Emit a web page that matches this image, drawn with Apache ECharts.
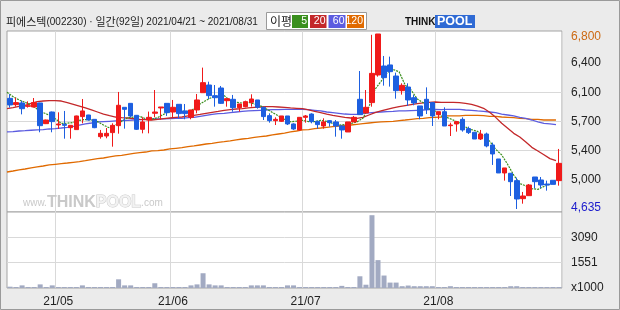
<!DOCTYPE html>
<html><head><meta charset="utf-8">
<script src="https://cdn.jsdelivr.net/npm/echarts@6/dist/echarts.min.js"></script>
<style>html,body{margin:0;padding:0;background:#ebebeb;}#c{width:620px;height:310px;}</style>
</head><body><div id="c"></div>
<script>
const title = '피에스텍(002230) · 일간(92일) 2021/04/21 ~ 2021/08/31';
const legendLabel = '이평';
const maNames = ['5', '20', '60', '120'];
const dates = [
'2021/04/21','2021/04/22','2021/04/23','2021/04/26','2021/04/27','2021/04/28','2021/04/29','2021/04/30',
'2021/05/03','2021/05/04','2021/05/06','2021/05/07','2021/05/10','2021/05/11','2021/05/12','2021/05/13','2021/05/14',
'2021/05/17','2021/05/18','2021/05/20','2021/05/21','2021/05/24','2021/05/25','2021/05/26','2021/05/27','2021/05/28','2021/05/31',
'2021/06/01','2021/06/02','2021/06/03','2021/06/04','2021/06/07','2021/06/08','2021/06/09','2021/06/10','2021/06/11',
'2021/06/14','2021/06/15','2021/06/16','2021/06/17','2021/06/18','2021/06/21','2021/06/22','2021/06/23','2021/06/24','2021/06/25',
'2021/06/28','2021/06/29','2021/06/30',
'2021/07/01','2021/07/02','2021/07/05','2021/07/06','2021/07/07','2021/07/08','2021/07/09','2021/07/12','2021/07/13','2021/07/14',
'2021/07/15','2021/07/16','2021/07/19','2021/07/20','2021/07/21','2021/07/22','2021/07/23','2021/07/26','2021/07/27','2021/07/28',
'2021/07/29','2021/07/30',
'2021/08/02','2021/08/03','2021/08/04','2021/08/05','2021/08/06','2021/08/09','2021/08/10','2021/08/11','2021/08/12','2021/08/13',
'2021/08/17','2021/08/18','2021/08/19','2021/08/20','2021/08/23','2021/08/24','2021/08/25','2021/08/26','2021/08/27','2021/08/30','2021/08/31'];
const opens = [6004,5926,5947,5905,5897,5947,5691,5835,5675,5683,5641,5617,5778,5798,5744,5530,5538,5580,5666,5893,
5942,5794,5621,5736,5819,5885,5942,5835,5930,5848,5769,5860,6074,6169,6037,6132,5975,5992,5889,5901,
5955,5984,5893,5790,5728,5720,5786,5687,5613,5769,5810,5720,5662,5728,5712,5662,5588,5712,5992,5823,
5951,6293,6404,6417,6280,6099,6144,6012,5910,5992,5951,5802,5839,5666,5687,5744,5629,5584,5501,5563,
5427,5254,5081,5077,4986,4763,4800,5031,4994,4944,4990,4986];
const closes = [5922,5951,5876,5913,5951,5666,5736,5716,5687,5670,5670,5786,5848,5736,5641,5571,5571,5670,5918,5868,
5786,5621,5712,5769,5835,5897,5827,5893,5815,5815,5860,5984,6198,6037,6012,5942,6000,5889,5934,5963,
5996,5893,5778,5728,5744,5786,5687,5625,5769,5786,5716,5679,5712,5703,5662,5613,5712,5769,5802,5893,
6313,6800,6260,6334,6099,6165,5984,5947,5786,5868,5786,5839,5662,5674,5716,5613,5580,5501,5563,5415,
5316,5081,5143,4973,4759,4796,4932,4973,4932,4932,4940,5200];
const lows = [5889,5901,5806,5889,5893,5584,5686,5584,5625,5505,5505,5617,5695,5730,5635,5505,5510,5406,5567,5629,
5770,5613,5571,5571,5770,5740,5786,5770,5757,5745,5745,5819,6074,5996,5901,5934,5901,5839,5839,5893,
5901,5876,5736,5703,5674,5712,5674,5613,5604,5703,5695,5629,5629,5654,5530,5505,5588,5712,5802,5823,
5901,6272,6161,6149,6000,6050,5910,5918,5745,5810,5662,5745,5662,5538,5592,5592,5563,5501,5489,5398,
5180,5081,4986,4796,4635,4701,4800,4891,4891,4862,4940,4924];
const highs = [6054,6013,5975,5967,6008,5950,5740,5840,5831,5848,5670,5790,5996,5800,5745,5613,5637,5695,6083,5893,
5942,5798,5770,5840,6107,5897,5942,5984,5930,5934,5860,6058,6384,6210,6169,6157,6000,6046,5934,5975,
6054,5984,5893,5819,5769,5786,5786,5695,5769,5798,5819,5720,5757,5736,5736,5670,5712,5786,6342,6107,
6790,6800,6528,6520,6322,6190,6190,6046,5910,6140,5951,5839,5893,5703,5716,5769,5654,5584,5613,5580,
5456,5254,5143,5077,5023,4846,4944,5031,5031,4986,4990,5378];
const ma5 = [6078,6025,5984,5955,5923,5871,5828,5796,5751,5695,5696,5706,5732,5742,5736,5716,5673,5638,5674,5720,
5763,5773,5781,5751,5745,5767,5808,5844,5853,5849,5842,5873,5934,5979,6018,6035,6038,5976,5955,5946,
5956,5935,5913,5872,5828,5786,5745,5714,5722,5731,5717,5715,5732,5719,5694,5674,5680,5692,5712,5758,
5898,6115,6214,6320,6361,6332,6168,6106,5996,5950,5874,5845,5788,5766,5735,5701,5649,5617,5595,5534,
5475,5375,5304,5186,5054,4950,4921,4887,4878,4913,4942,4995];
const ma20 = [5876,5889,5905,5918,5942,5963,5971,5975,5975,5971,5951,5930,5909,5885,5860,5835,5810,5790,5773,5765,
5761,5753,5745,5740,5736,5745,5753,5761,5769,5773,5786,5794,5806,5819,5831,5843,5856,5864,5872,5876,
5885,5893,5897,5901,5901,5897,5893,5885,5881,5876,5860,5843,5827,5810,5794,5782,5769,5761,5757,5769,
5798,5827,5848,5868,5885,5901,5914,5926,5938,5947,5955,5959,5955,5955,5955,5951,5942,5930,5909,5881,
5831,5769,5695,5633,5571,5526,5464,5398,5353,5307,5258,5233];
const ma60 = [5588,5592,5600,5604,5609,5613,5617,5625,5629,5637,5646,5658,5674,5687,5699,5712,5716,5720,5724,5728,
5732,5736,5740,5745,5749,5749,5749,5753,5757,5757,5765,5769,5782,5794,5806,5815,5819,5827,5835,5843,
5848,5852,5856,5860,5864,5864,5868,5868,5868,5868,5864,5856,5848,5835,5827,5819,5810,5806,5806,5815,
5823,5831,5835,5839,5843,5848,5848,5852,5856,5860,5864,5868,5864,5868,5868,5868,5860,5856,5848,5843,
5835,5827,5810,5798,5786,5769,5757,5736,5712,5695,5687,5679];
const ma120 = [5093,5105,5118,5130,5143,5155,5167,5180,5188,5196,5204,5213,5221,5233,5246,5258,5266,5279,5291,5299,
5312,5324,5332,5340,5353,5357,5365,5378,5386,5394,5406,5415,5427,5439,5448,5460,5468,5477,5489,5501,
5510,5522,5530,5538,5551,5563,5575,5588,5600,5613,5617,5629,5637,5646,5654,5662,5670,5674,5683,5691,
5699,5707,5712,5716,5720,5728,5736,5745,5753,5757,5765,5769,5773,5786,5786,5786,5794,5794,5794,5790,
5782,5782,5773,5769,5765,5757,5753,5745,5745,5736,5736,5736];
const volumes = [80,60,160,60,60,220,60,160,60,60,60,60,160,60,60,60,60,60,530,160,
160,60,60,60,290,60,60,60,60,60,160,220,900,220,160,160,60,60,60,60,
160,160,160,60,60,60,160,160,60,60,60,60,60,60,60,130,60,60,715,200,
4440,1700,760,330,330,110,150,110,110,110,110,60,60,110,60,60,60,60,60,60,
60,60,60,110,110,60,60,60,60,60,60,60];
const priceTickValues = [4635, 4996, 5357, 5717, 6078, 6439, 6800];
const priceTickLabels = ['4,635', '5,000', '5,400', '5,700', '6,100', '6,400', '6,800'];
const volTickValues = [0, 1545, 3090];
const volTickLabels = ['x1000', '1551', '3090'];

const FONT = '"Noto Sans CJK KR", "Noto Sans", sans-serif';
const LFONT = '"Liberation Sans", "Noto Sans", sans-serif';
const maColors = ['#3a8f1e', '#c3282a', '#5c5ce0', '#e06a00'];
const gridColor = '#d9d9d9';
const isMonthStart = (i) => i > 0 && dates[i].slice(5, 7) !== dates[i - 1].slice(5, 7);

// title as rich text: Hangul runs in CJK font, the rest narrower
const titleRich = title.split(/([가-힣]+)/).filter(s => s.length)
  .map(s => /[가-힣]/.test(s) ? '{h|' + s + '}' : '{a|' + s + '}').join('');

const chart = echarts.init(document.getElementById('c'), null, {renderer: 'canvas'});
const legendBoxes = [];
const boxX = [292, 310, 328.5, 347], boxW = [16, 16.5, 17, 17];
maNames.forEach((n, k) => {
  legendBoxes.push({type: 'rect', shape: {x: boxX[k], y: 15, width: boxW[k], height: 13}, style: {fill: maColors[k]}});
  legendBoxes.push({type: 'text', x: boxX[k] + boxW[k] - 1, y: 21.5, style: {text: n, fill: '#fff', font: '10.5px ' + LFONT, align: 'right', verticalAlign: 'middle'}});
});

chart.setOption({
  animation: false,
  backgroundColor: '#ebebeb',
  grid: [
    {left: 7, right: 58, top: 31, height: 181, show: true, backgroundColor: '#fff', borderColor: '#a3a3a3', borderWidth: 1, outerBoundsMode: 'none', containLabel: false},
    {left: 7, right: 58, top: 212, height: 76, show: true, backgroundColor: '#fff', borderColor: '#a3a3a3', borderWidth: 1, outerBoundsMode: 'none', containLabel: false}
  ],
  xAxis: [
    {type: 'category', gridIndex: 0, data: dates, boundaryGap: true,
     axisLine: {show: false}, axisTick: {show: false}, axisLabel: {show: false},
     splitLine: {show: true, interval: (i) => isMonthStart(i), lineStyle: {color: gridColor, width: 1}}},
    {type: 'category', gridIndex: 0, data: dates.concat(['']), boundaryGap: false, show: false},
    {type: 'category', gridIndex: 1, data: dates, boundaryGap: true,
     axisLine: {show: false}, axisTick: {show: false},
     axisLabel: {show: true, interval: (i) => isMonthStart(i), formatter: (d) => d.slice(2, 4) + '/' + d.slice(5, 7),
       color: '#222', fontSize: 12, fontFamily: LFONT, margin: 8},
     splitLine: {show: true, interval: (i) => isMonthStart(i), lineStyle: {color: gridColor, width: 1}}}
  ],
  yAxis: [
    {type: 'value', gridIndex: 0, position: 'right', min: 4598, max: 6837, scale: true,
     axisLine: {show: false}, axisTick: {show: false, customValues: priceTickValues.slice(1, 6)},
     axisLabel: {show: true, customValues: priceTickValues, margin: 9, align: 'left',
       fontSize: 12, fontFamily: LFONT, color: '#222',
       formatter: (v) => {
         const k = priceTickValues.indexOf(v);
         const t = k >= 0 ? priceTickLabels[k] : '';
         if (k === priceTickValues.length - 1) return '{o|' + t + '}';
         if (k === 0) return '{b|' + t + '}';
         return t;
       },
       rich: {o: {color: '#cc6a14', fontSize: 12, fontFamily: LFONT, padding: [5, 0, 0, 0]},
              b: {color: '#1c1ccc', fontSize: 12, fontFamily: LFONT, padding: [0, 0, 3, 0]}}},
     splitLine: {show: true, showMinLine: false, showMaxLine: false, lineStyle: {color: gridColor, width: 1}}},
    {type: 'value', gridIndex: 1, position: 'right', min: 0, max: 4635, interval: 1545,
     axisLine: {show: false}, axisTick: {show: false},
     axisLabel: {show: true, margin: 9, align: 'left', fontSize: 12, fontFamily: LFONT, color: '#222',
       formatter: (v) => { const k = volTickValues.indexOf(v); return k >= 0 ? volTickLabels[k] : ''; }},
     splitLine: {show: true, showMinLine: false, showMaxLine: false, lineStyle: {color: gridColor, width: 1}}}
  ],
  series: [
    {name: 'MA120', type: 'line', xAxisIndex: 1, yAxisIndex: 0, data: ma120, symbol: 'none', z: 2,
     lineStyle: {color: maColors[3], width: 1.3}},
    {name: 'MA60', type: 'line', xAxisIndex: 1, yAxisIndex: 0, data: ma60, symbol: 'none', z: 2,
     lineStyle: {color: maColors[2], width: 1.3}},
    {name: 'MA20', type: 'line', xAxisIndex: 1, yAxisIndex: 0, data: ma20, symbol: 'none', z: 2,
     lineStyle: {color: maColors[1], width: 1.3}},
    {name: 'MA5', type: 'line', xAxisIndex: 1, yAxisIndex: 0, data: ma5, symbol: 'none', z: 2,
     lineStyle: {color: maColors[0], width: 1.2, type: [2, 1]}},
    {name: 'price', type: 'candlestick', xAxisIndex: 0, yAxisIndex: 0, z: 3, barWidth: 5,
     data: dates.map((d, i) => [opens[i], closes[i], lows[i], highs[i]]),
     itemStyle: {color: '#f01a1a', color0: '#1d5fe0', borderColor: '#f01a1a', borderColor0: '#1d5fe0', borderWidth: 1}},
    {name: 'volume', type: 'bar', xAxisIndex: 2, yAxisIndex: 1, data: volumes, barWidth: 5,
     itemStyle: {color: '#a2aac2'}}
  ],
  graphic: [
    {type: 'rect', shape: {x: 0.5, y: 0.5, width: 619, height: 309}, style: {fill: 'none', stroke: '#9a9a9a', lineWidth: 1}, z: 100},
    {type: 'text', x: 6, y: 22, style: {text: titleRich, verticalAlign: 'middle',
      rich: {h: {fill: '#222', font: '11px ' + FONT}, a: {fill: '#222', font: '10px ' + LFONT}}}},
    {type: 'rect', shape: {x: 266.5, y: 12.5, width: 100, height: 17}, style: {fill: '#fff', stroke: '#9a9a9a', lineWidth: 1}},
    {type: 'text', x: 270, y: 21.5, style: {text: legendLabel, fill: '#222', font: '12px ' + FONT, verticalAlign: 'middle'}},
    ...legendBoxes,
    {type: 'text', x: 405, y: 22, style: {text: 'THINK', fill: '#111', font: 'bold 10px ' + LFONT, verticalAlign: 'middle'}},
    {type: 'rect', shape: {x: 435, y: 15, width: 40, height: 13}, style: {fill: '#2f6ad4'}},
    {type: 'text', x: 437, y: 22, style: {text: 'POOL', fill: '#fff', font: 'bold 12.5px ' + LFONT, verticalAlign: 'middle'}},
    {type: 'text', x: 23, y: 203, z: 1, style: {
      text: '{s|www.}{b|THINK}{p|POOL}{s|.com}', verticalAlign: 'middle',
      rich: {
        s: {fill: '#c9c9c9', font: '10px ' + LFONT},
        b: {fill: '#c9c9c9', font: 'bold 16px ' + LFONT},
        p: {fill: '#f2f2f2', stroke: '#c9c9c9', lineWidth: 1, font: 'bold 16px ' + LFONT}
      }}}
  ]
});
</script></body></html>
